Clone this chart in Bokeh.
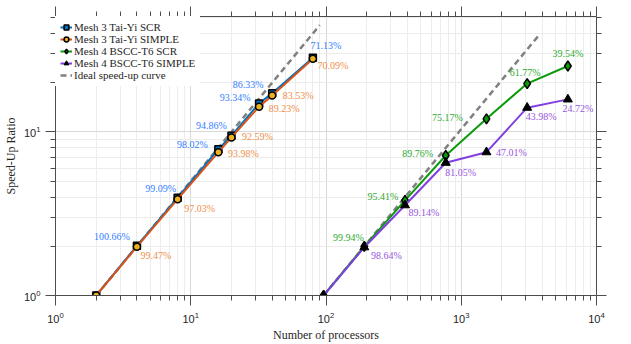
from bokeh.plotting import figure
from bokeh.models import LogAxis, FixedTicker, ColumnDataSource, Legend, LegendItem, Range1d
from bokeh.core.properties import value
from bokeh.embed import file_html
from bokeh.resources import INLINE

# ---------------- data ----------------
m3_procs = [2, 4, 8, 16, 20, 32, 40, 80]
m3_scr = [1.0, 2.0132, 3.9636, 7.8416, 9.486, 14.934, 17.266, 28.452]
m3_simple = [1.0, 1.9894, 3.8812, 7.5184, 9.259, 14.277, 16.706, 28.036]
m3_scr_eff = ["100.66%", "99.09%", "98.02%", "94.86%", "93.34%", "86.33%", "71.13%"]
m3_simple_eff = ["99.47%", "97.03%", "93.98%", "92.59%", "89.23%", "83.53%", "70.09%"]

m4_procs = [96, 192, 384, 768, 1536, 3072, 6144]
m4_scr = [1.0, 1.9988, 3.8164, 7.1808, 12.027, 19.766, 25.306]
m4_simple = [1.0, 1.9728, 3.5656, 6.484, 7.5216, 14.074, 15.821]
m4_scr_eff = ["99.94%", "95.41%", "89.76%", "75.17%", "61.77%", "39.54%"]
m4_simple_eff = ["98.64%", "89.14%", "81.05%", "47.01%", "43.98%", "24.72%"]

ideal3_x = [2, 90]
ideal3_y = [1, 45]
ideal4_x = [96, 3700]
ideal4_y = [1, 38.5]

x_major = [1, 10, 100, 1000, 10000]
x_minor = [m * d for d in (1, 10, 100, 1000) for m in range(2, 10)]
y_major = [1, 10]
y_minor = [2, 3, 4, 5, 6, 7, 8, 9, 20, 30, 40, 50]

# label offsets (screen px) relative to their points
m3_scr_dx = [-25, -17, -26, -20, -24, -24, 13]
m3_scr_dy = [-9, -9, -5, -10, -6, -9, -12]
m3_sim_dx = [19, 22, 25, 26, 25, 26, 20]
m3_sim_dy = [9, 9, 1, -1, 2, 0, 7]
m4_scr_dx = [-16, -22, -28, -39, -2, 0]
m4_scr_dy = [-9, -4, -2, -1, -11, -12]
m4_sim_dx = [22, 19, 15, 25, 14, 10]
m4_sim_dy = [8, 7, 10, 0, 9, 9]

SERIF = "Liberation Serif"
SANS = "Liberation Sans"
AXC = "#4d4d4d"

xt = FixedTicker(ticks=x_major, minor_ticks=x_minor)
yt = FixedTicker(ticks=y_major, minor_ticks=y_minor)

p = figure(width=631, height=344, x_axis_type="log", y_axis_type="log",
           x_range=Range1d(1, 1e4), y_range=Range1d(1, 50.8),
           output_backend="svg", toolbar_location=None,
           min_border_left=55, min_border_right=35, min_border_top=16, min_border_bottom=46)
p.outline_line_color = None
p.background_fill_color = "white"
p.xaxis.ticker = xt
p.yaxis.ticker = yt
p.xgrid.ticker = xt
p.ygrid.ticker = yt

for ax in (p.xaxis[0], p.yaxis[0]):
    ax.axis_line_color = AXC
    ax.major_tick_line_color = AXC
    ax.minor_tick_line_color = AXC
    ax.major_tick_out = 10
    ax.major_tick_in = 0
    ax.minor_tick_out = 5
    ax.minor_tick_in = 0
    ax.major_label_text_font = SANS
    ax.major_label_text_font_size = "11px"
    ax.major_label_text_color = "#262626"
    ax.axis_label_text_font = SERIF
    ax.axis_label_text_font_size = "12px"
    ax.axis_label_text_font_style = "normal"
    ax.axis_label_text_color = "#262626"
p.xaxis.axis_label = "Number of processors"
p.yaxis.axis_label = "Speed-Up Ratio"
p.xaxis.major_label_standoff = 6
p.yaxis.major_label_standoff = 5
p.xaxis.axis_label_standoff = 2
p.yaxis.axis_label_standoff = 3

for loc, tick_out, tk in (("above", 10, xt), ("right", 10, yt)):
    ax = LogAxis(ticker=tk)
    ax.axis_line_color = AXC
    ax.major_tick_line_color = AXC
    ax.minor_tick_line_color = AXC
    ax.major_tick_out = tick_out
    ax.major_tick_in = 0
    ax.minor_tick_out = 5
    ax.minor_tick_in = 0
    ax.major_label_text_font_size = "1px"
    ax.major_label_text_color = None
    ax.major_label_standoff = 0
    p.add_layout(ax, loc)

for g in (p.xgrid[0], p.ygrid[0]):
    g.grid_line_color = "#d9d9d9"
    g.minor_grid_line_color = "#ececec"

BLUE, ORANGE, GREEN, PURPLE = "#0072BD", "#D95319", "#0A9A0A", "#8040E0"

r_ideal3 = p.line(ideal3_x, ideal3_y, line_color="#808080", line_width=2.5, line_dash="6 4")
r_ideal4 = p.line(ideal4_x, ideal4_y, line_color="#808080", line_width=2.5, line_dash="6 4")

l1 = p.line(m3_procs, m3_scr, line_color=BLUE, line_width=2)
s1 = p.scatter(m3_procs, m3_scr, marker="square", size=7, fill_color=BLUE, line_color="black", line_width=1.5)
l2 = p.line(m3_procs, m3_simple, line_color=ORANGE, line_width=2)
s2 = p.scatter(m3_procs, m3_simple, marker="circle", size=7, fill_color="#EDB120", line_color="black", line_width=1.5)
l3 = p.line(m4_procs, m4_scr, line_color=GREEN, line_width=2)
s3 = p.scatter(m4_procs, m4_scr, marker="diamond", size=10, fill_color=GREEN, line_color="black", line_width=1.5)
l4 = p.line(m4_procs, m4_simple, line_color=PURPLE, line_width=2)
s4 = p.scatter(m4_procs, m4_simple, marker="triangle", size=9, fill_color="black", line_color="black", line_width=1)

def labels(xs, ys, texts, dx, dy, color):
    src = ColumnDataSource(dict(x=xs[1:], y=ys[1:], t=texts, dx=dx, dy=dy))
    p.text(x="x", y="y", text="t", x_offset="dx", y_offset="dy", source=src,
           text_color=color, text_font=value(SERIF), text_font_size="10px",
           text_align="center", text_baseline="middle")

labels(m3_procs, m3_scr, m3_scr_eff, m3_scr_dx, m3_scr_dy, "#3380FF")
labels(m3_procs, m3_simple, m3_simple_eff, m3_sim_dx, m3_sim_dy, "#F0904A")
labels(m4_procs, m4_scr, m4_scr_eff, m4_scr_dx, m4_scr_dy, "#2FAA2F")
labels(m4_procs, m4_simple, m4_simple_eff, m4_sim_dx, m4_sim_dy, "#9955DD")

legend = Legend(items=[
    LegendItem(label="Mesh 3 Tai-Yi SCR", renderers=[l1, s1]),
    LegendItem(label="Mesh 3 Tai-Yi SIMPLE", renderers=[l2, s2]),
    LegendItem(label="Mesh 4 BSCC-T6 SCR", renderers=[l3, s3]),
    LegendItem(label="Mesh 4 BSCC-T6 SIMPLE", renderers=[l4, s4]),
    LegendItem(label="Ideal speed-up curve", renderers=[r_ideal3]),
], location="top_left")
legend.label_text_font = SERIF
legend.label_text_font_size = "11px"
legend.label_text_color = "#262626"
legend.label_height = 12
legend.glyph_height = 12
legend.glyph_width = 12
legend.spacing = 0
legend.padding = 5
legend.margin = 0
legend.label_standoff = 2
legend.border_line_alpha = 0
legend.background_fill_alpha = 1
p.add_layout(legend, "center")

open("out.html", "w").write(file_html(p, INLINE))
